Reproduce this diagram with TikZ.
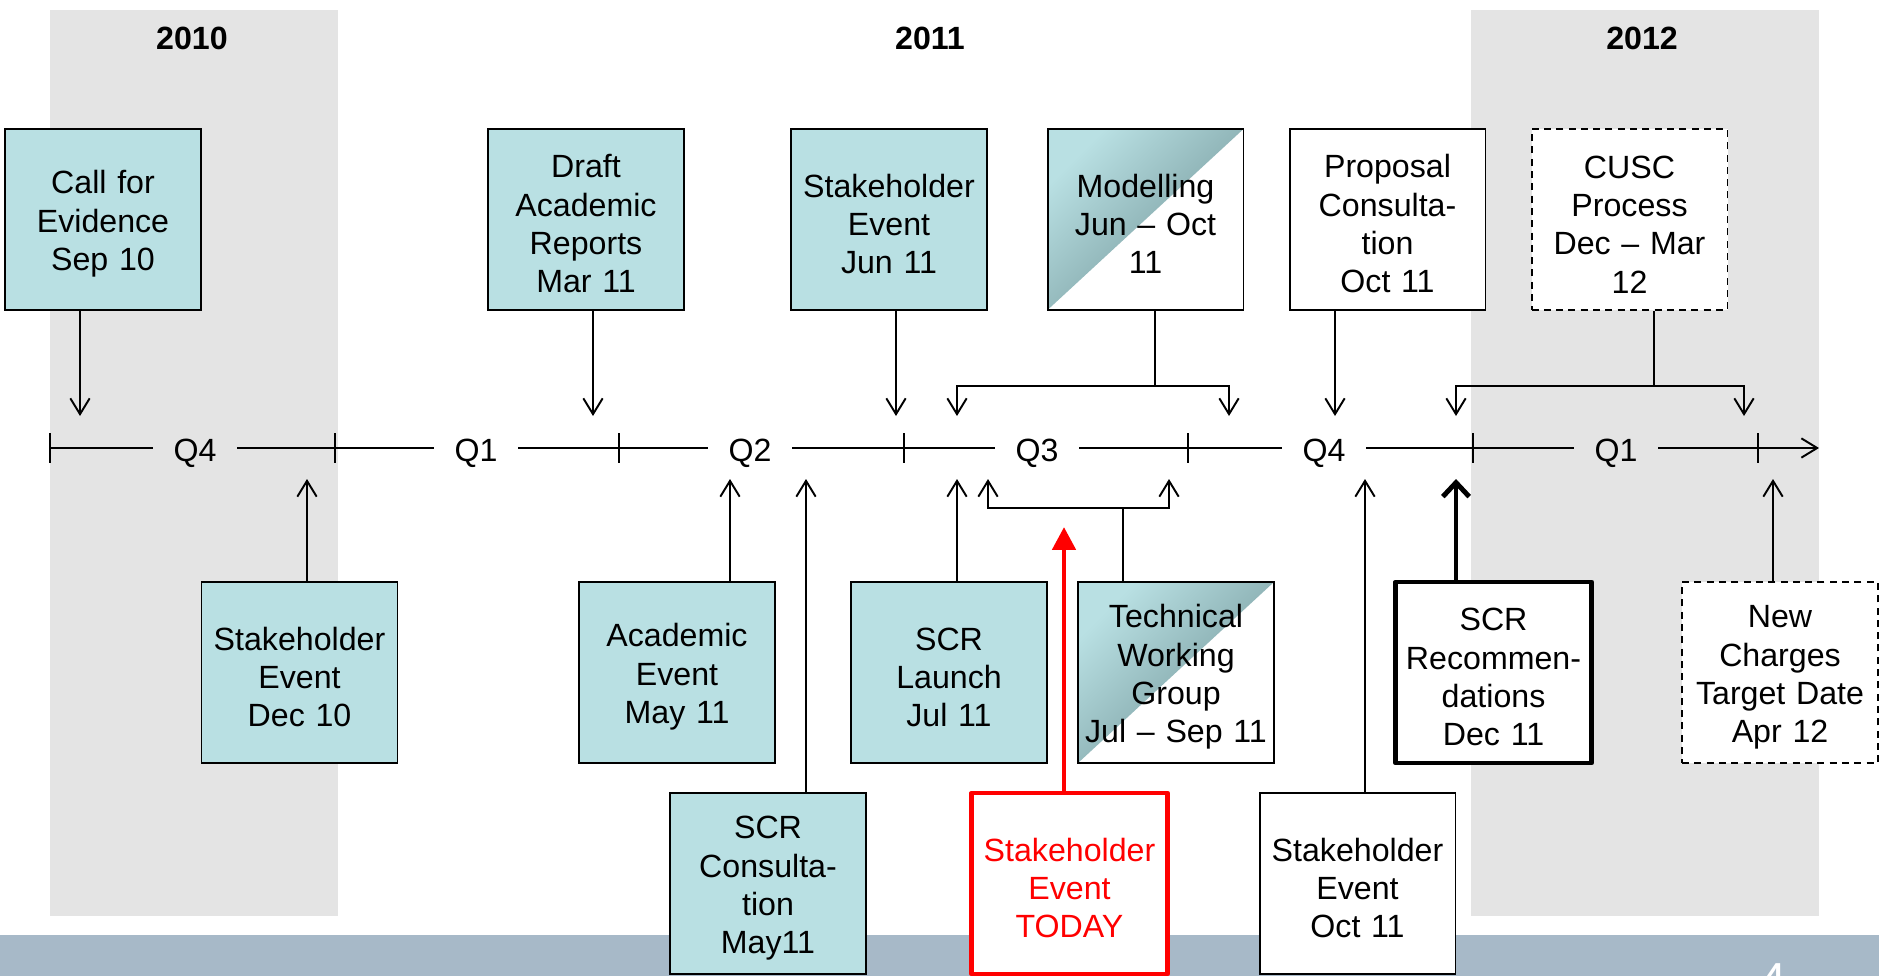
\documentclass[tikz,border=0pt]{standalone}
\usepackage{fontspec}
\setmainfont{Liberation Sans}
\usetikzlibrary{positioning,calc,arrows.meta}
\definecolor{bandgrey}{HTML}{E4E4E4}
\definecolor{footblue}{HTML}{A7B9C8}
\definecolor{boxteal}{HTML}{B9E0E3}
\definecolor{tealdark}{HTML}{6E9194}

\begin{document}
\begin{tikzpicture}[x=0.02cm, y=-0.02cm, line width=1.1pt,
    >={Straight Barb[length=9pt,width=11pt]},
    font=\fontsize{18.3}{21.8}\selectfont,
    event/.style={draw, fill=white, minimum width=3.92cm, minimum height=3.62cm,
        text width=3.7cm, align=center, inner sep=0pt,
        execute at begin node={\rule{0pt}{1em}}},
    done/.style={event, fill=boxteal},
    halfdone/.style={event, path picture={
        \shade[top color=boxteal, bottom color=tealdark, shading angle=45]
            (path picture bounding box.north west) -- (path picture bounding box.north east)
            -- (path picture bounding box.south west) -- cycle;}},
    planned/.style={event, dash pattern=on 4pt off 3pt},
    keyevent/.style={event, line width=2.8pt, line join=round},
    nowevent/.style={event, draw=red, text=red, line width=2.8pt, line join=round},
    quarter/.style={inner xsep=0.4cm, inner ysep=0pt, text height=15.5pt, text depth=0pt},
    year/.style={font=\fontsize{18.3}{21.8}\selectfont\bfseries}]

    \useasboundingbox (0,0) rectangle (1879,976);
    \clip (0,0) rectangle (1879,976);

    % Background
    \fill[bandgrey] (50,10) rectangle (338,916);
    \fill[bandgrey] (1471,10) rectangle (1819,916);
    \fill[footblue] (0,935) rectangle (1879,976);
    \node[white, font=\fontsize{28}{30}\selectfont, anchor=base] (pagenum) at (1773,997) {4};

    % Years
    \node[year] (y2010) at (192,38) {2010};
    \node[year] (y2011) at (930,38) {2011};
    \node[year] (y2012) at (1642,38) {2012};

    % Timeline
    \foreach \i in {0,...,6} {
        \coordinate (t\i) at ({50+284.6*\i},448);
        \draw (t\i) ++(0,-15) -- ++(0,30);
    }
    \coordinate (tend) at (1819,448);
    \foreach \q/\n/\x in {Q4/qa/195, Q1/qb/476, Q2/qc/750, Q3/qd/1037, Q4/qe/1324, Q1/qf/1616}
        \node[quarter] (\n) at (\x,448) {\q};
    \draw (t0) -- (qa.west);
    \draw (qa.east) -- (qb.west);
    \draw (qb.east) -- (qc.west);
    \draw (qc.east) -- (qd.west);
    \draw (qd.east) -- (qe.west);
    \draw (qe.east) -- (qf.west);
    \draw[->] (qf.east) -- (tend);

    % Events above the line
    \node[done] (callev) at (103,219.5) {Call for\\Evidence\\Sep 10};
    \node[done] (draftrep) at (586,219.5) {Draft\\Academic\\Reports\\Mar 11};
    \node[done] (stkjun) at (889,219.5) {Stakeholder\\Event\\Jun 11};
    \node[halfdone] (modelling) at (1145.5,219.5) {Modelling\\Jun -- Oct\\11};
    \node[event] (propcons) at (1387.5,219.5) {Proposal\\Consulta-\\tion\\Oct 11};
    \node[planned] (cusc) at (1629.5,219.5) {CUSC\\Process\\Dec -- Mar\\12};

    % Events below the line
    \node[done] (stkdec) at (299.5,672.5) {Stakeholder\\Event\\Dec 10};
    \node[done] (acadev) at (677,672.5) {Academic\\Event\\May 11};
    \node[done] (scrlaunch) at (949,672.5) {SCR\\Launch\\Jul 11};
    \node[halfdone] (twg) at (1176,672.5) {Technical\\Working\\Group\\Jul -- Sep 11};
    \node[keyevent] (scrrec) at (1493.5,672.5) {SCR\\Recommen-\\dations\\Dec 11};
    \node[planned] (newchg) at (1780,672.5) {New\\Charges\\Target Date\\Apr 12};
    \node[done] (scrcons) at (768,883.5) {SCR\\Consulta-\\tion\\May11};
    \node[nowevent] (today) at (1069.5,883.5) {Stakeholder\\Event\\TODAY};
    \node[event] (stkoct) at (1357.5,883.5) {Stakeholder\\Event\\Oct 11};

    % Arrow tips on the timeline
    \coordinate (callevtip) at (80,416);
    \coordinate (drafttip) at (593,416);
    \coordinate (stkjuntip) at (896,416);
    \coordinate (propconstip) at (1335,416);
    \coordinate (modstem) at (1155,386);
    \coordinate (modL) at (957,416);
    \coordinate (modR) at (1229,416);
    \coordinate (cuscstem) at (1654,386);
    \coordinate (cuscL) at (1456,416);
    \coordinate (cuscR) at (1744,416);
    \coordinate (stkdectip) at (307,479);
    \coordinate (acadevtip) at (730,479);
    \coordinate (scrconstip) at (806,479);
    \coordinate (launchtip) at (957,479);
    \coordinate (twgstem) at (1123,508);
    \coordinate (twgL) at (988,479);
    \coordinate (twgR) at (1169,479);
    \coordinate (todaytip) at (1064,527);
    \coordinate (stkocttip) at (1365,479);
    \coordinate (scrrectip) at (1456,479);
    \coordinate (newchgtip) at (1773,479);

    % Connectors
    \draw[->] (callev.south -| callevtip) -- (callevtip);
    \draw[->] (draftrep.south -| drafttip) -- (drafttip);
    \draw[->] (stkjun.south -| stkjuntip) -- (stkjuntip);
    \draw[->] (propcons.south -| propconstip) -- (propconstip);
    \draw (modelling.south -| modstem) -- (modstem);
    \draw[<->] (modL) -- (modL |- modstem) -- (modR |- modstem) -- (modR);
    \draw (cusc.south -| cuscstem) -- (cuscstem);
    \draw[<->] (cuscL) -- (cuscL |- cuscstem) -- (cuscR |- cuscstem) -- (cuscR);
    \draw[->] (stkdec.north -| stkdectip) -- (stkdectip);
    \draw[->] (acadev.north -| acadevtip) -- (acadevtip);
    \draw[->] (scrcons.north -| scrconstip) -- (scrconstip);
    \draw[->] (scrlaunch.north -| launchtip) -- (launchtip);
    \draw (twg.north -| twgstem) -- (twgstem);
    \draw[<->] (twgL) -- (twgL |- twgstem) -- (twgR |- twgstem) -- (twgR);
    \draw[red, line width=2.8pt, -{Triangle[length=13pt,width=13pt]}] (today.north -| todaytip) -- (todaytip);
    \draw[->] (stkoct.north -| stkocttip) -- (stkocttip);
    \draw[line width=2.8pt, -{Straight Barb[length=8pt,width=15pt]}] (scrrec.north -| scrrectip) -- (scrrectip);
    \draw[->] (newchg.north -| newchgtip) -- (newchgtip);
\end{tikzpicture}
\end{document}
